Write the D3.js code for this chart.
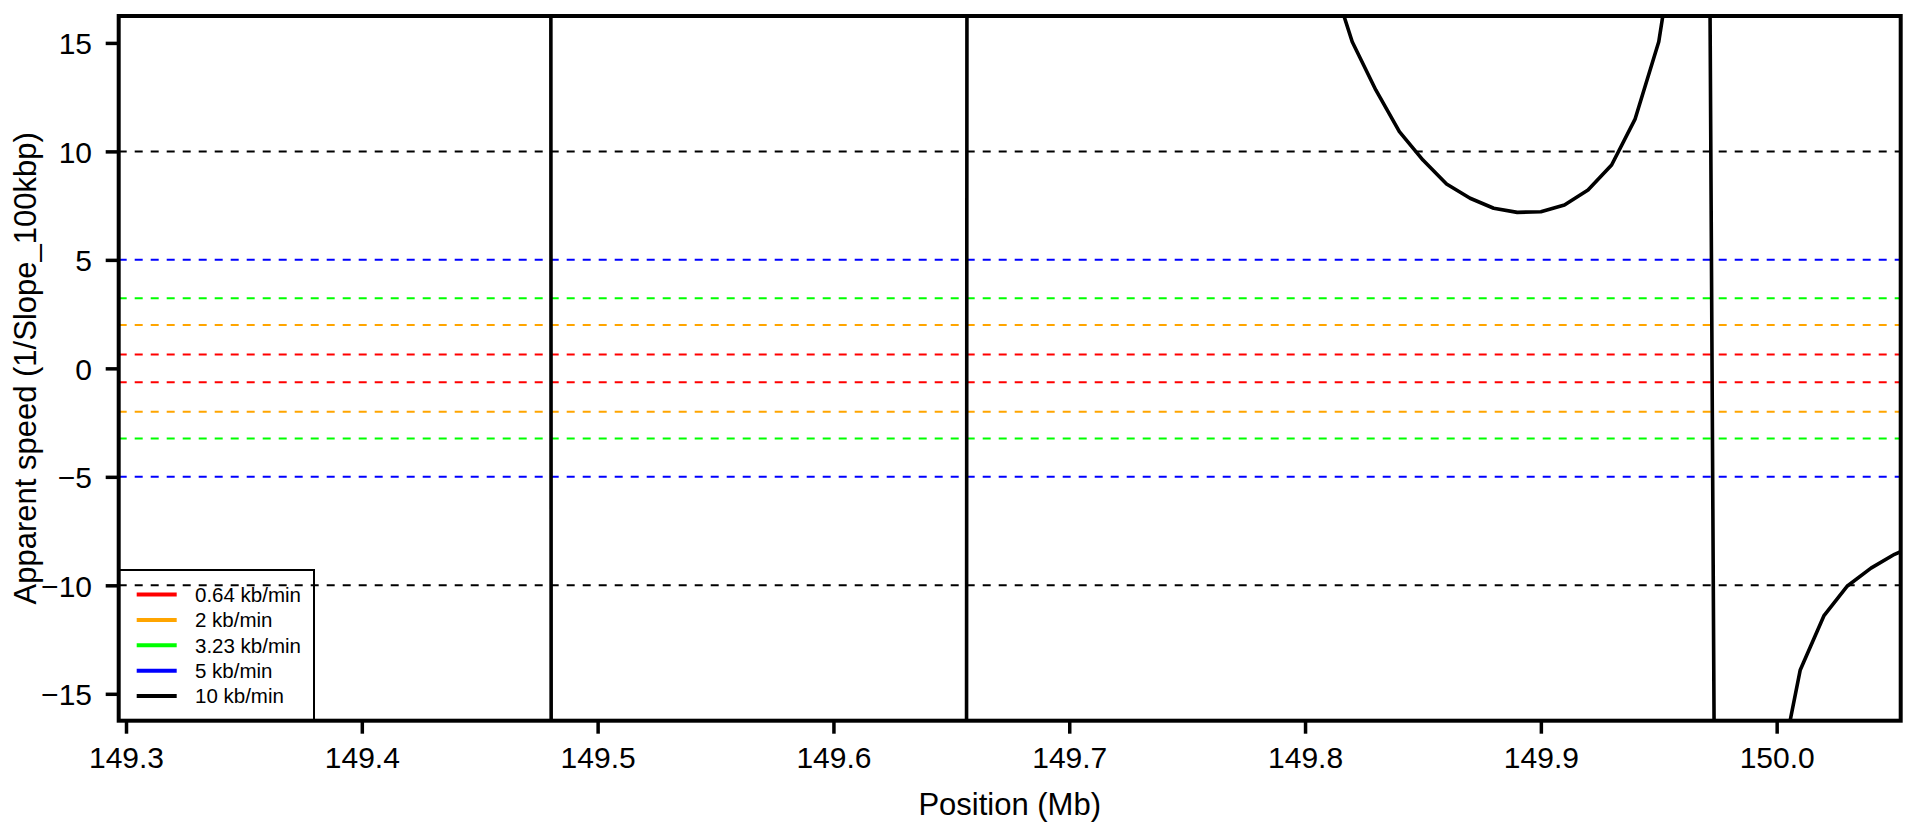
<!DOCTYPE html>
<html><head><meta charset="utf-8">
<script src="https://cdn.jsdelivr.net/npm/d3@7"></script>
<style>
body{margin:0;background:#fff}
svg{display:block}
text{font-family:"Liberation Sans",Arial,Helvetica,sans-serif;fill:#000}
</style>
</head><body>
<svg id="chart" width="1916" height="826"></svg>
<script>
// ---- data (off-chart values estimated) ----
const positions = [
  149.30,149.31,149.32,149.33,149.34,149.35,149.36,149.37,149.38,149.39,
  149.40,149.41,149.42,149.43,149.44,149.45,149.46,149.47,149.48,149.49,
  149.50,149.51,149.52,149.53,149.54,149.55,149.56,149.57,149.58,149.59,
  149.60,149.61,149.62,149.63,149.64,149.65,149.66,149.67,149.68,149.69,
  149.70,149.71,149.72,149.73,149.74,149.75,149.76,149.77,149.78,149.79,
  149.80,149.81,149.82,149.83,149.84,149.85,149.86,149.87,149.88,149.89,
  149.90,149.91,149.92,149.93,149.94,149.95,149.96,149.97,149.98,149.99,
  150.00,150.01,150.02,150.03,150.04,150.05,150.06
];
const speeds = [
  38,35,33,32,33,35,38,42,47,52,
  56,58,57,54,52,53,56,58,60,-2500,
  -320,-150,-95,-70,-58,-52,-50,-52,-58,-68,
  -85,-110,-150,-230,-420,-1300,690,260,150,105,
  82,68,58,50,44,38,33,29,25,22,
  20,18.45,15.05,12.83,10.91,9.6,8.5,7.84,7.38,7.19,
  7.22,7.53,8.22,9.37,11.5,15.05,22,50,-142,-34,
  -19.35,-13.9,-11.41,-10.03,-9.21,-8.57,-8.1
];
const refSpeeds = [0.64, 2, 3.23, 5, 10];
const refColors = ["#FF0000", "#FFA500", "#00FF00", "#0000FF", "#000000"];
const legendLabels = ["0.64 kb/min", "2 kb/min", "3.23 kb/min", "5 kb/min", "10 kb/min"];
const xTicks = [149.3, 149.4, 149.5, 149.6, 149.7, 149.8, 149.9, 150.0];
const yTicks = [-15, -10, -5, 0, 5, 10, 15];
const xDomain = [149.2969, 150.0526];
const yDomain = [-16.24, 16.24];
const xTitle = "Position (Mb)";
const yTitle = "Apparent speed (1/Slope_100kbp)";

// ---- layout ----
const L = 118.7, R = 1900.7, T = 16, B = 720.7;
const svg = d3.select("#chart");
const x = d3.scaleLinear().domain(xDomain).range([L, R]);
const y = d3.scaleLinear().domain(yDomain).range([B, T]);

svg.append("defs").append("clipPath").attr("id", "plotclip")
  .append("rect").attr("x", L).attr("y", T).attr("width", R - L).attr("height", B - T);

const plot = svg.append("g").attr("clip-path", "url(#plotclip)");

// reference dashed lines
const refLines = [];
refSpeeds.forEach((v, i) => { refLines.push({v: v, c: refColors[i]}); refLines.push({v: -v, c: refColors[i]}); });
plot.selectAll("line.ref").data(refLines).enter().append("line")
  .attr("class", "ref")
  .attr("x1", L).attr("x2", R)
  .attr("y1", d => y(d.v)).attr("y2", d => y(d.v))
  .attr("stroke", d => d.c).attr("stroke-width", 2)
  .attr("stroke-dasharray", "8,8");

// speed curve
const pts = positions.map((p, i) => [p, speeds[i]]);
const line = d3.line().x(d => x(d[0])).y(d => y(d[1]));
plot.append("path").datum(pts)
  .attr("d", line).attr("fill", "none")
  .attr("stroke", "#000").attr("stroke-width", 3.6)
  .attr("stroke-linejoin", "round");

// axes
const xAxis = d3.axisBottom(x).tickValues(xTicks).tickSize(13).tickFormat(d3.format(".1f"));
const gx = svg.append("g").attr("transform", `translate(0,${B})`).call(xAxis);
gx.select(".domain").remove();
gx.selectAll(".tick line").attr("stroke", "#000").attr("stroke-width", 3.5);
gx.selectAll(".tick text").attr("y", 47).attr("dy", 0).attr("font-size", 30)
  .style("font-family", '"Liberation Sans",Arial,sans-serif').attr("fill", "#000");

const yAxis = d3.axisLeft(y).tickValues(yTicks).tickSize(13).tickFormat(d3.format("d"));
const gy = svg.append("g").attr("transform", `translate(${L},0)`).call(yAxis);
gy.select(".domain").remove();
gy.selectAll(".tick line").attr("stroke", "#000").attr("stroke-width", 3.5);
gy.selectAll(".tick text").attr("x", -26.7).attr("dy", "0.36em").attr("font-size", 30)
  .style("font-family", '"Liberation Sans",Arial,sans-serif').attr("fill", "#000");

// box
svg.append("rect").attr("x", L).attr("y", T).attr("width", R - L).attr("height", B - T)
  .attr("fill", "none").attr("stroke", "#000").attr("stroke-width", 4);

// titles
svg.append("text").attr("x", (L + R) / 2).attr("y", 815).attr("text-anchor", "middle")
  .attr("font-size", 31).text(xTitle);
svg.append("text").attr("transform", `translate(36,${(T + B) / 2}) rotate(-90)`)
  .attr("text-anchor", "middle").attr("font-size", 31).text(yTitle);

// legend
const lg = svg.append("g");
lg.append("rect").attr("x", L).attr("y", 570).attr("width", 314 - L).attr("height", B - 570)
  .attr("fill", "none").attr("stroke", "#000").attr("stroke-width", 2);
const rows = lg.selectAll("g.row").data(legendLabels).enter().append("g")
  .attr("transform", (d, i) => `translate(0,${594.6 + i * 25.35})`);
rows.append("line").attr("x1", 136.7).attr("x2", 176.7).attr("y1", 0).attr("y2", 0)
  .attr("stroke", (d, i) => refColors[i]).attr("stroke-width", 4);
rows.append("text").attr("x", 195).attr("y", 0).attr("dy", "0.36em")
  .attr("font-size", 20.5).text(d => d);
</script>
</body></html>
